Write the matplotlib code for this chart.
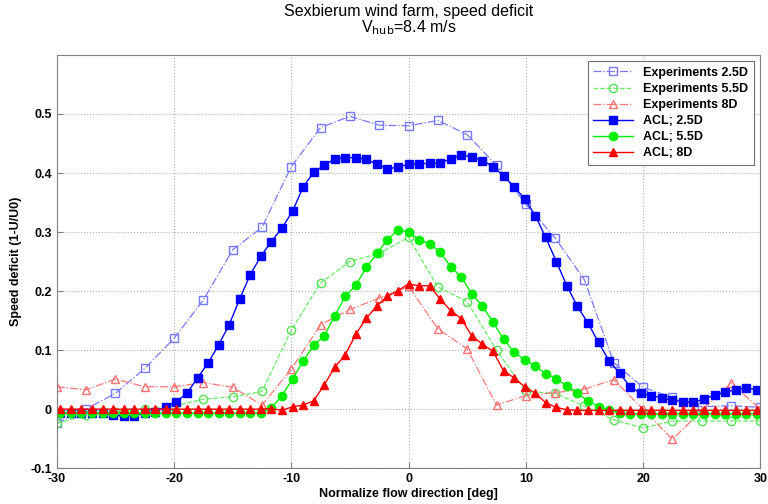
import matplotlib
matplotlib.use("Agg")
import matplotlib.pyplot as plt

plt.rcParams["font.family"] = ["Liberation Sans", "DejaVu Sans"]
plt.rcParams["axes.unicode_minus"] = False

# ACL simulation, sampled every 0.9 deg
acl_x = [-29.7, -28.8, -27.9, -27.0, -26.1, -25.2, -24.3, -23.4, -22.5, -21.6,
         -20.7, -19.8, -18.9, -18.0, -17.1, -16.2, -15.3, -14.4, -13.5, -12.6,
         -11.7, -10.8, -9.9, -9.0, -8.1, -7.2, -6.3, -5.4, -4.5, -3.6,
         -2.7, -1.8, -0.9, 0.0, 0.9, 1.8, 2.7, 3.6, 4.5, 5.4,
         6.3, 7.2, 8.1, 9.0, 9.9, 10.8, 11.7, 12.6, 13.5, 14.4,
         15.3, 16.2, 17.1, 18.0, 18.9, 19.8, 20.7, 21.6, 22.5, 23.4,
         24.3, 25.2, 26.1, 27.0, 27.9, 28.8, 29.7]

acl_25 = [-0.007, -0.007, -0.007, -0.007, -0.007, -0.010, -0.012, -0.011, -0.007, -0.004,
          0.004, 0.013, 0.027, 0.053, 0.078, 0.109, 0.143, 0.187, 0.228, 0.259,
          0.284, 0.307, 0.335, 0.376, 0.401, 0.413, 0.424, 0.426, 0.426, 0.423,
          0.415, 0.407, 0.410, 0.415, 0.415, 0.417, 0.417, 0.424, 0.431, 0.427,
          0.421, 0.411, 0.395, 0.377, 0.356, 0.328, 0.291, 0.250, 0.209, 0.174,
          0.146, 0.113, 0.082, 0.061, 0.038, 0.027, 0.023, 0.019, 0.015, 0.013,
          0.012, 0.017, 0.024, 0.029, 0.033, 0.036, 0.033]

acl_55 = [-0.007, -0.007, -0.007, -0.007, -0.007, -0.007, -0.007, -0.007, -0.007, -0.007,
          -0.007, -0.007, -0.007, -0.007, -0.007, -0.007, -0.007, -0.007, -0.007, -0.007,
          0.002, 0.023, 0.051, 0.081, 0.108, 0.124, 0.158, 0.191, 0.210, 0.240,
          0.264, 0.287, 0.304, 0.300, 0.287, 0.280, 0.266, 0.241, 0.224, 0.195,
          0.175, 0.147, 0.119, 0.096, 0.084, 0.073, 0.060, 0.051, 0.040, 0.027,
          0.014, 0.004, -0.001, -0.007, -0.008, -0.008, -0.008, -0.008, -0.008, -0.008,
          -0.008, -0.008, -0.008, -0.008, -0.008, -0.008, -0.008]

acl_8 = [0.000, 0.000, 0.000, 0.000, 0.000, 0.000, 0.000, 0.000, 0.000, 0.000,
         0.000, 0.000, 0.000, 0.000, 0.000, 0.000, 0.000, 0.000, 0.000, 0.000,
         0.001, -0.002, 0.004, 0.007, 0.014, 0.041, 0.071, 0.092, 0.127, 0.154,
         0.175, 0.191, 0.201, 0.212, 0.209, 0.209, 0.186, 0.167, 0.153, 0.124,
         0.110, 0.098, 0.065, 0.053, 0.038, 0.027, 0.011, 0.003, -0.001, -0.002,
         -0.002, -0.002, -0.002, -0.002, -0.002, -0.002, -0.002, -0.002, -0.002, -0.002,
         -0.002, -0.002, -0.002, -0.002, -0.002, -0.002, -0.002]

# measurements, every 2.5 deg
exp_x = [-30, -27.5, -25, -22.5, -20, -17.5, -15, -12.5, -10, -7.5, -5, -2.5, 0,
         2.5, 5, 7.5, 10, 12.5, 15, 17.5, 20, 22.5, 25, 27.5, 30]

exp_25 = [-0.024, 0.000, 0.027, 0.069, 0.120, 0.185, 0.270, 0.308, 0.411, 0.477, 0.496, 0.481, 0.480,
          0.489, 0.465, 0.413, 0.347, 0.290, 0.219, 0.079, 0.037, 0.020, 0.004, 0.006, 0.003]

exp_55 = [-0.024, -0.010, -0.004, 0.000, 0.005, 0.017, 0.021, 0.030, 0.134, 0.214, 0.250, 0.264, 0.291,
          0.207, 0.182, 0.100, 0.030, 0.027, 0.005, -0.018, -0.032, -0.020, -0.020, -0.020, -0.020]

exp_8 = [0.038, 0.033, 0.051, 0.038, 0.038, 0.045, 0.037, 0.007, 0.068, 0.143, 0.169, 0.188, 0.208,
         0.136, 0.102, 0.007, 0.023, 0.028, 0.034, 0.050, 0.000, -0.051, -0.003, 0.044, 0.000]

fig = plt.figure(figsize=(7.68, 5.04), dpi=100)
ax = fig.add_axes([0.074, 0.071, 0.916, 0.820])

ax.plot(exp_x, exp_25, "-.", color="#7878ff", marker="s", mfc="none", mec="#7878ff",
        ms=5.5, lw=0.9, label="Experiments 2.5D")
ax.plot(exp_x, exp_55, "--", color="#66ee66", marker="o", mfc="none", mec="#55e055",
        ms=6, lw=0.9, label="Experiments 5.5D")
ax.plot(exp_x, exp_8, "-.", color="#ff7878", marker="^", mfc="none", mec="#ff7070",
        ms=6, lw=0.9, label="Experiments 8D")
ax.plot(acl_x, acl_25, "-", color="#0000ff", marker="s", ms=5.5, lw=1.0, label="ACL; 2.5D")
ax.plot(acl_x, acl_55, "-", color="#00ee00", marker="o", ms=6, lw=1.0, label="ACL; 5.5D")
ax.plot(acl_x, acl_8, "-", color="#ff0000", marker="^", ms=6, lw=1.0, label="ACL; 8D")

ax.set_xlim(-30, 30)
ax.set_ylim(-0.1, 0.6)
ax.set_xticks([-30, -20, -10, 0, 10, 20, 30])
ax.set_yticks([-0.1, 0, 0.1, 0.2, 0.3, 0.4, 0.5])
ax.set_yticklabels(["-0.1", "0", "0.1", "0.2", "0.3", "0.4", "0.5"])
ax.tick_params(direction="in", length=4, labelsize=9, colors="#808080", labelcolor="black")
for lab in ax.get_xticklabels() + ax.get_yticklabels():
    lab.set_fontweight("bold")
ax.grid(True, linestyle=":", color="#b0b0b0", lw=0.8)
for s in ax.spines.values():
    s.set_color("#808080")

ax.set_xlabel("Normalize flow direction [deg]", fontsize=9, fontweight="bold", labelpad=2)
ax.set_ylabel("Speed deficit (1-U/U0)", fontsize=9, fontweight="bold", labelpad=6)
ax.set_title("Sexbierum wind farm, speed deficit\nV$_{\\mathrm{hub}}$=8.4 m/s", fontsize=11.5, pad=16,
             linespacing=0.95)

leg = ax.legend(loc="upper right", prop={"weight": "bold", "size": 9}, fancybox=False,
                framealpha=1, edgecolor="#707070", borderaxespad=0.5, handlelength=3.2,
                labelspacing=0.33, borderpad=0.45)
leg.get_frame().set_linewidth(0.8)

fig.savefig("out.png", dpi=100)
